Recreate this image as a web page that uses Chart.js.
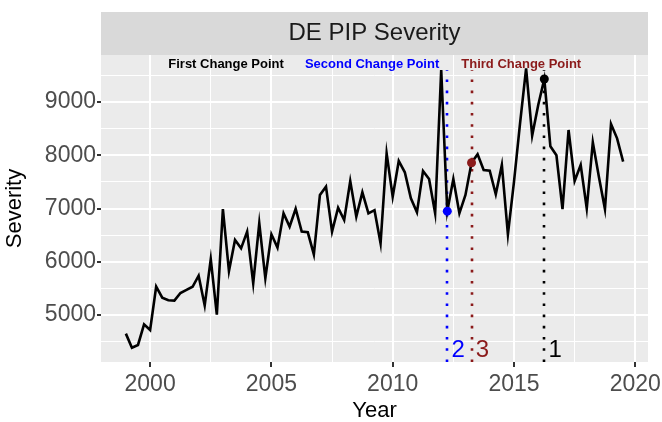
<!DOCTYPE html>
<html><head><meta charset="utf-8">
<script src="https://cdn.jsdelivr.net/npm/chart.js@4/dist/chart.umd.min.js"></script>
<style>html,body{margin:0;padding:0;background:#fff}#wrap{width:662px;height:422px}</style>
</head><body><div id="wrap"><canvas id="c" width="662" height="422"></canvas></div>
<script>
// quarterly observation times
const years = [
 1999.00,1999.25,1999.50,1999.75,2000.00,2000.25,2000.50,2000.75,
 2001.00,2001.25,2001.50,2001.75,2002.00,2002.25,2002.50,2002.75,
 2003.00,2003.25,2003.50,2003.75,2004.00,2004.25,2004.50,2004.75,
 2005.00,2005.25,2005.50,2005.75,2006.00,2006.25,2006.50,2006.75,
 2007.00,2007.25,2007.50,2007.75,2008.00,2008.25,2008.50,2008.75,
 2009.00,2009.25,2009.50,2009.75,2010.00,2010.25,2010.50,2010.75,
 2011.00,2011.25,2011.50,2011.75,2012.00,2012.25,2012.50,2012.75,
 2013.00,2013.25,2013.50,2013.75,2014.00,2014.25,2014.50,2014.75,
 2015.00,2015.25,2015.50,2015.75,2016.00,2016.25,2016.50,2016.75,
 2017.00,2017.25,2017.50,2017.75,2018.00,2018.25,2018.50,2018.75,
 2019.00,2019.25,2019.50
];
const severity = [
 4650,4386,4437,4825, 4718,5532,5325,5276,
 5270,5413,5470,5530, 5738,5180,6050,5005,
 6990,5826,6408,6252, 6565,5595,6723,5689,
 6515,6265,6910,6659, 6995,6565,6553,6139,
 7254,7410,6565,7015, 6784,7516,6847,7304,
 6910,6969,6346,8036, 7222,7892,7680,7191,
 6928,7704,7554,6910, 9601,6950,7554,6910,
 7254,7860,8019,7723, 7710,7267,7817,6515,
 7500,8600,9633,8370, 8944,9432,8170,8000,
 6990,8474,7516,7817, 7000,8243,7598,6990,
 8587,8318,7879
];
const cpYears = [2016.25, 2012.25, 2013.25];
const cpValues = [9432, 6950, 7860];
const cpNumbers = ['1', '2', '3'];
const cpNames = ['First Change Point', 'Second Change Point', 'Third Change Point'];
const cpNameYears = [2003.13, 2009.15, 2015.30];
const cpNameLevel = 9714;
const cpNumberLevel = 4343;
const cpNumberShift = 0.45;
const cpLineTop = 9601;
const cpColors = ['#000000', '#0000FF', '#8B1A1A'];
const xTickValues = [2000, 2005, 2010, 2015, 2020];
const xMinorValues = [2002.5, 2007.5, 2012.5, 2017.5];
const yTickValues = [5000, 6000, 7000, 8000, 9000];
const yMinorValues = [4500, 5500, 6500, 7500, 8500, 9500];

const FONT = "'Liberation Sans', Arial, Helvetica, sans-serif";

const stripPlugin = {
  id: 'strip',
  beforeDraw(chart) {
    const {ctx, chartArea: a} = chart;
    ctx.save();
    ctx.fillStyle = '#D9D9D9';
    ctx.fillRect(a.left, 12, a.right - a.left, a.top - 12);
    ctx.fillStyle = '#EBEBEB';
    ctx.fillRect(a.left, a.top, a.right - a.left, a.bottom - a.top);
    ctx.restore();
  },
  beforeDatasetsDraw(chart) {
    const {ctx, chartArea: a, scales: {x, y}} = chart;
    ctx.save();
    ctx.beginPath();
    ctx.rect(a.left, a.top, a.right - a.left, a.bottom - a.top);
    ctx.clip();
    cpYears.forEach((yr, i) => {
      const px = Math.round(x.getPixelForValue(yr));
      ctx.strokeStyle = cpColors[i];
      ctx.lineWidth = 2.6;
      ctx.setLineDash([2.6, 8.6]);
      ctx.beginPath();
      ctx.moveTo(px, a.bottom);
      ctx.lineTo(px, y.getPixelForValue(cpLineTop));
      ctx.stroke();
    });
    ctx.restore();
  },
  afterDatasetsDraw(chart) {
    const {ctx, scales: {x, y}} = chart;
    ctx.save();
    ctx.textAlign = 'center';
    ctx.textBaseline = 'middle';
    ctx.font = 'bold 13px ' + FONT;
    cpNames.forEach((t, i) => {
      ctx.fillStyle = cpColors[i];
      ctx.fillText(t, x.getPixelForValue(cpNameYears[i]), y.getPixelForValue(cpNameLevel));
    });
    ctx.font = '24px ' + FONT;
    cpNumbers.forEach((t, i) => {
      ctx.fillStyle = cpColors[i];
      ctx.fillText(t, x.getPixelForValue(cpYears[i] + cpNumberShift), y.getPixelForValue(cpNumberLevel));
    });
    ctx.restore();
  }
};

const isMajorX = v => xTickValues.includes(v);
const isMajorY = v => yTickValues.includes(v);

new Chart(document.getElementById('c'), {
  type: 'line',
  data: {
    datasets: [
      {
        type: 'scatter',
        data: cpYears.map((yr, i) => ({x: yr, y: cpValues[i]})),
        pointRadius: 4.5,
        pointBackgroundColor: cpColors,
        pointBorderColor: cpColors,
        pointBorderWidth: 0,
        showLine: false,
        order: 0
      },
      {
        data: years.map((yr, i) => ({x: yr, y: severity[i]})),
        borderColor: '#000000',
        borderWidth: 2.6,
        pointRadius: 0,
        tension: 0,
        fill: false,
        order: 1
      }
    ]
  },
  options: {
    responsive: false,
    animation: false,
    devicePixelRatio: 1,
    layout: {padding: {top: 12, left: 0, right: 14, bottom: 0}},
    plugins: {
      legend: {display: false},
      tooltip: {enabled: false},
      title: {
        display: true,
        text: 'DE PIP Severity',
        fullSize: false,
        color: '#1A1A1A',
        font: {family: FONT, size: 24, weight: 'normal', lineHeight: 1.2},
        padding: {top: 7.1, bottom: 7.1}
      }
    },
    scales: {
      x: {
        type: 'linear',
        min: 1997.975,
        max: 2020.525,
        afterBuildTicks: s => { s.ticks = [...xTickValues, ...xMinorValues].sort((a, b) => a - b).map(v => ({value: v})); },
        afterFit: s => { s.height = 60; s.paddingLeft = 0; s.paddingRight = 0; },
        ticks: {
          callback: v => isMajorX(v) ? String(v) : '',
          color: '#4D4D4D',
          font: {family: FONT, size: 23},
          padding: 4,
          maxRotation: 0,
          autoSkip: false
        },
        grid: {
          color: '#FFFFFF',
          lineWidth: c => (c.tick && isMajorX(c.tick.value)) ? 2 : 1,
          tickColor: c => (c.tick && isMajorX(c.tick.value)) ? '#333333' : 'rgba(0,0,0,0)',
          tickWidth: 2,
          tickLength: 5
        },
        border: {display: false},
        title: {
          display: true,
          text: 'Year',
          color: '#000000',
          font: {family: FONT, size: 22, lineHeight: 1},
          padding: {top: 0, bottom: 0}
        }
      },
      y: {
        type: 'linear',
        min: 4117,
        max: 9883,
        afterBuildTicks: s => { s.ticks = [...yTickValues, ...yMinorValues].sort((a, b) => a - b).map(v => ({value: v})); },
        afterFit: s => { s.width = 101; s.paddingTop = 0; s.paddingBottom = 0; },
        ticks: {
          callback: v => isMajorY(v) ? String(v) : '',
          color: '#4D4D4D',
          font: {family: FONT, size: 23},
          padding: 1
        },
        grid: {
          color: '#FFFFFF',
          lineWidth: c => (c.tick && isMajorY(c.tick.value)) ? 2 : 1,
          tickColor: c => (c.tick && isMajorY(c.tick.value)) ? '#333333' : 'rgba(0,0,0,0)',
          tickWidth: 2,
          tickLength: 4
        },
        border: {display: false},
        title: {
          display: true,
          text: 'Severity',
          color: '#000000',
          font: {family: FONT, size: 22, lineHeight: 1},
          padding: {top: 4, bottom: 0}
        }
      }
    }
  },
  plugins: [stripPlugin]
});
</script>
</body></html>
